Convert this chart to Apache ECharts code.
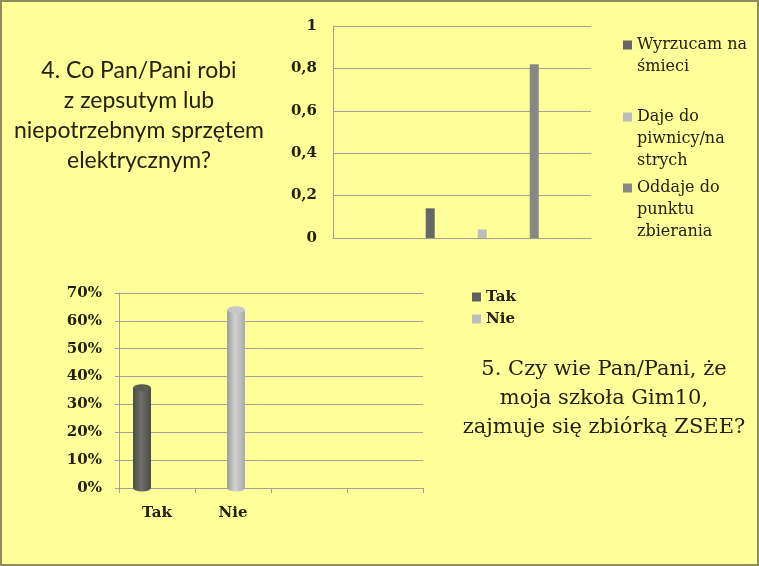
<!DOCTYPE html>
<html>
<head>
<meta charset="utf-8">
<script src="https://cdn.jsdelivr.net/npm/echarts@6/dist/echarts.min.js"></script>
<style>
  html, body { margin: 0; padding: 0; background: #ffff99; }
  #container { width: 759px; height: 566px; }
</style>
</head>
<body>
<div id="container"></div>
<script>
var dom = document.getElementById('container');
var myChart = echarts.init(dom, null, { renderer: 'canvas' });

// question 4 (top chart)
const q4Title = '4. Co Pan/Pani robi\nz zepsutym lub\nniepotrzebnym sprzętem\nelektrycznym?';
const q4Names = ['Wyrzucam na\nśmieci', 'Daje do\npiwnicy/na\nstrych', 'Oddaje do\npunktu\nzbierania'];
const q4Values = [0.14, 0.04, 0.82];
const q4Colors = ['#676767', '#bcbcbc', '#888888'];
const q4Ticks = [0, 0.2, 0.4, 0.6, 0.8, 1];

// question 5 (bottom chart)
const q5Title = '5. Czy wie Pan/Pani, że\nmoja szkoła Gim10,\nzajmuje się zbiórką ZSEE?';
const q5Categories = ['Tak', 'Nie', '', ''];
const q5Tak = [36, null, null, null];
const q5Nie = [null, 64, null, null];
const q5Ticks = [0, 10, 20, 30, 40, 50, 60, 70];

const ink = '#22220f';
const gridGray = '#a2a29a';
const serif = 'DejaVu Serif';

function grad(a, b, c) {
  return new echarts.graphic.LinearGradient(0, 0, 1, 0, [
    { offset: 0, color: a },
    { offset: 0.45, color: b },
    { offset: 1, color: c }
  ]);
}
const takFill = grad('#4c4d48', '#707169', '#4a4b46');
const nieFill = grad('#9c9c9c', '#d2d2d2', '#a9a9a9');

// one legend per top series; blank lines in front keep the icon on the first text line
const lh = 22;
const q4LegendTops = [12, 62, 133];
const q4Legends = q4Names.map(function (n, i) {
  const lines = n.split('\n').length;
  return {
    data: [n],
    left: 623,
    top: q4LegendTops[i],
    padding: 0,
    orient: 'vertical',
    icon: 'rect',
    itemWidth: 9,
    itemHeight: 9,
    selectedMode: false,
    formatter: function (name) { return '\n'.repeat(lines - 1) + name; },
    textStyle: {
      fontFamily: serif,
      fontSize: 16,
      color: ink,
      lineHeight: lh
    }
  };
});

const q4Series = [{
  // empty slot, only shifts the three bars inside the single category
  name: '',
  type: 'bar',
  xAxisIndex: 0, yAxisIndex: 0,
  barWidth: 7,
  barGap: '478%',
  data: [null],
  silent: true
}].concat(q4Names.map(function (n, i) {
  return {
    name: n,
    type: 'bar',
    xAxisIndex: 0, yAxisIndex: 0,
    barWidth: 9,
    barGap: '478%',
    itemStyle: { color: q4Colors[i] },
    data: [q4Values[i]]
  };
}));

function cap(name, data, fill, dx, pos) {
  return {
    name: name,
    type: 'pictorialBar',
    xAxisIndex: 1, yAxisIndex: 1,
    symbol: 'circle',
    symbolSize: [18, 7],
    symbolPosition: pos,
    symbolOffset: [dx, pos === 'end' ? '-50%' : '50%'],
    itemStyle: { color: fill },
    z: 3,
    data: data
  };
}

option = {
  backgroundColor: '#ffff99',
  animation: false,
  graphic: [
    {
      type: 'text', x: 139, y: 56,
      style: {
        text: q4Title,
        fill: ink, font: '23px Lato', align: 'center', verticalAlign: 'top', lineHeight: 30
      }
    },
    {
      type: 'text', x: 604, y: 355,
      style: {
        text: q5Title,
        fill: ink, font: '21px "DejaVu Serif"', align: 'center', verticalAlign: 'top', lineHeight: 29
      }
    },
    {
      type: 'rect', silent: true,
      shape: { x: 1, y: 1, width: 757, height: 564 },
      style: { fill: 'none', stroke: '#8c8c5c', lineWidth: 2 }
    }
  ],
  legend: q4Legends.concat([{
    data: [
      { name: 'Tak', itemStyle: { color: '#616161' } },
      { name: 'Nie', itemStyle: { color: '#bdbdbd' } }
    ],
    left: 472,
    top: 288,
    padding: 0,
    orient: 'vertical',
    icon: 'rect',
    itemWidth: 9,
    itemHeight: 9,
    itemGap: 4,
    selectedMode: false,
    textStyle: { fontFamily: serif, fontWeight: 'bold', fontSize: 15, color: ink, lineHeight: 18 }
  }]),
  grid: [
    { left: 333, right: 168, top: 26, bottom: 328 },
    { left: 119, right: 336, top: 293, bottom: 78 }
  ],
  xAxis: [
    {
      gridIndex: 0,
      type: 'category',
      data: [''],
      axisLine: { lineStyle: { color: gridGray } },
      axisTick: { show: false },
      axisLabel: { show: false }
    },
    {
      gridIndex: 1,
      type: 'category',
      data: q5Categories,
      axisLine: { lineStyle: { color: gridGray } },
      axisTick: { show: true, length: 5, lineStyle: { color: gridGray } },
      axisLabel: { margin: 18, fontFamily: serif, fontWeight: 'bold', fontSize: 15, color: ink }
    }
  ],
  yAxis: [
    {
      gridIndex: 0,
      type: 'value',
      min: q4Ticks[0],
      max: q4Ticks[q4Ticks.length - 1],
      interval: 0.2,
      axisLine: { show: true, lineStyle: { color: gridGray } },
      axisTick: { show: false },
      splitLine: { lineStyle: { color: gridGray } },
      axisLabel: {
        margin: 16,
        fontFamily: serif, fontWeight: 'bold', fontSize: 15, color: ink,
        formatter: function (v) { return String(+v.toFixed(1)).replace('.', ','); }
      }
    },
    {
      gridIndex: 1,
      type: 'value',
      min: q5Ticks[0],
      max: q5Ticks[q5Ticks.length - 1],
      interval: 10,
      axisLine: { show: true, lineStyle: { color: gridGray } },
      axisTick: { show: true, length: 4, lineStyle: { color: gridGray } },
      splitLine: { lineStyle: { color: gridGray } },
      axisLabel: {
        margin: 17,
        fontFamily: serif, fontWeight: 'bold', fontSize: 15, color: ink,
        formatter: '{value}%'
      }
    }
  ],
  series: q4Series.concat([
    {
      name: 'Tak', type: 'bar', xAxisIndex: 1, yAxisIndex: 1,
      barWidth: 18, barGap: '0%',
      itemStyle: { color: takFill },
      data: q5Tak
    },
    {
      name: 'Nie', type: 'bar', xAxisIndex: 1, yAxisIndex: 1,
      barWidth: 18, barGap: '0%',
      itemStyle: { color: nieFill },
      data: q5Nie
    },
    {
      // empty slot after "Nie" so the two cylinders sit where the original has them
      name: '', type: 'bar', xAxisIndex: 1, yAxisIndex: 1,
      barWidth: 12, barGap: '0%',
      data: [null, null, null, null],
      silent: true
    },
    cap('Tak', q5Tak, '#5b5c56', -15, 'end'),
    cap('Tak', q5Tak, takFill, -15, 'start'),
    cap('Nie', q5Nie, '#c6c6c6', 3, 'end'),
    cap('Nie', q5Nie, nieFill, 3, 'start')
  ])
};

if (option && typeof option === 'object') {
  myChart.setOption(option);
}

window.addEventListener('resize', myChart.resize);
</script>
</body>
</html>
